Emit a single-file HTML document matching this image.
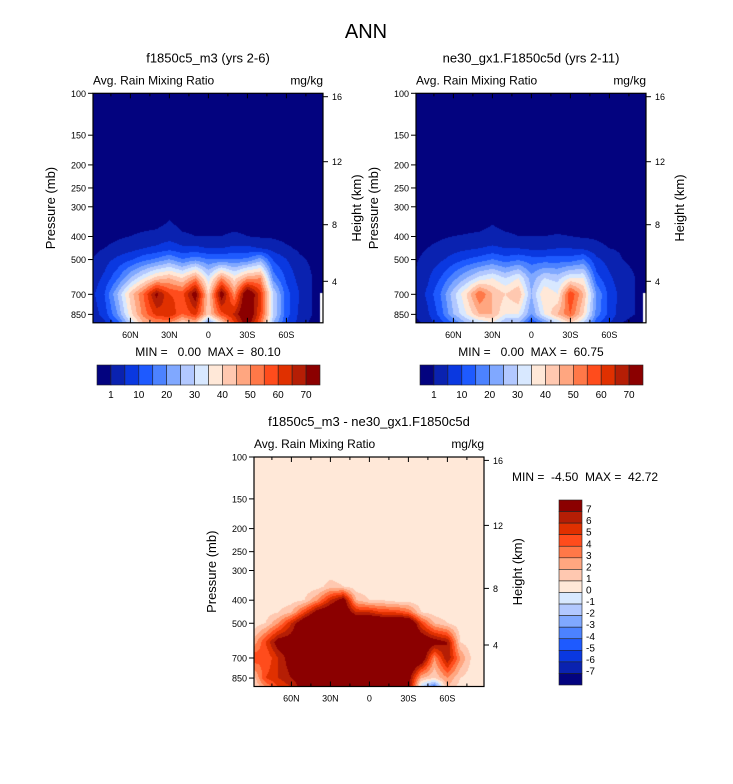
<!DOCTYPE html>
<html><head><meta charset="utf-8"><style>
body{margin:0;width:733px;height:784px;background:#fff;position:relative;overflow:hidden;font-family:"Liberation Sans",Arial,sans-serif}
canvas{position:absolute}
svg{position:absolute;left:0;top:0}
svg text{white-space:pre}
</style></head><body>
<canvas id="c1" width="230" height="230" style="left:93px;top:93px"></canvas>
<canvas id="c2" width="230" height="230" style="left:416px;top:93px"></canvas>
<canvas id="c3" width="230" height="230" style="left:254px;top:457px"></canvas>
<svg id="ov" width="733" height="784">
<text x="366" y="38" font-size="20" text-anchor="middle">ANN</text>
</svg>
<script>
// ---- data ----
const lats = [90,80,70,60,50,40,30,20,10,0,-10,-20,-30,-40,-50,-60,-70,-80,-90];
const pLevels = [925,850,700,600,500,450,400,350,300];
const field1 = [
 [1,4,12,30,45,50,50,40,45,20,40,60,75,55,25,10,3,0,0],
 [2,7,20,38,52,62,65,55,62,42,58,66,80,60,30,12,4,1,0],
 [3,10,25,42,55,72,60,58,75,40,75,50,80,62,30,12,5,1,0],
 [2,6,14,25,34,42,45,40,50,32,50,38,48,50,18,9,3,1,0],
 [0.8,3,6,9,13,16,20,15,18,15,15,15,16,22,9,5,1.5,0.5,0],
 [0,1,2,3,5,6,8,6,6,5,5,6,6,5,3,1.5,0.5,0,0],
 [0,0,0.5,1,1.5,2,3,1.5,1,1,1,1.5,1,0.5,0.5,0,0,0,0],
 [0,0,0,0,0,0,1.2,0,0,0,0,0,0,0,0,0,0,0,0],
 [0,0,0,0,0,0,0,0,0,0,0,0,0,0,0,0,0,0,0]
];
const field2 = [
 [0,2,8,15,25,30,35,25,25,10,20,30,40,30,12,5,1,0,0],
 [1,4,12,25,35,45,45,35,35,20,35,45,55,40,18,8,2,1,0],
 [1,6,15,28,40,55,45,40,45,25,40,35,60,45,20,8,3,1,0],
 [1,4,10,18,25,32,35,30,35,22,30,28,35,35,12,6,2,1,0],
 [0.5,2,4,7,10,12,15,12,14,12,12,12,12,15,6,3,1,0.5,0],
 [0,1,2,3,4,5,6,5,5,4,4,5,5,4,2,1,0.5,0,0],
 [0,0,0.5,1,1.2,1.5,2,1.5,1,1,1,1.2,1,0.5,0.5,0,0,0,0],
 [0,0,0,0,0,0,0.8,0,0,0,0,0,0,0,0,0,0,0,0],
 [0,0,0,0,0,0,0,0,0,0,0,0,0,0,0,0,0,0,0]
];
const fieldDiff = [
 [0.5,3,5,6,8,8,10,10,10,10,10,10,8,-1,-4,2,0.5,0.3,0.3],
 [1,5,6,7,8,9,9,10,10,10,10,10,8,2,1,3,1,0.3,0.3],
 [5,4,6,8,10,10,10,10,10,10,10,10,10,9,3,7,3,0.5,0.3],
 [2,5,8,8,10,10,10,10,10,10,10,10,10,9,8,7,1,0.3,0.3],
 [0.3,1,3,6,9,10,10,10,10,10,10,10,10,5,2,1,0.3,0.3,0.3],
 [0.3,0.5,1,2,5,8,9,9,6,6,5,5,4,1,0.5,0.3,0.3,0.3,0.3],
 [0.3,0.3,0.3,0.5,1,3,6,8,2,1,1,0.5,0.5,0.3,0.3,0.3,0.3,0.3,0.3],
 [0.3,0.3,0.3,0.3,0.3,0.5,1.5,1,0.3,0.3,0.3,0.3,0.3,0.3,0.3,0.3,0.3,0.3,0.3],
 [0.3,0.3,0.3,0.3,0.3,0.3,0.3,0.3,0.3,0.3,0.3,0.3,0.3,0.3,0.3,0.3,0.3,0.3,0.3]
];
const cnLevels = [1,5,10,15,20,25,30,35,40,45,50,55,60,65,70];
const cnLabels = ['1','10','20','30','40','50','60','70'];
const diffLevels = [-7,-6,-5,-4,-3,-2,-1,0,1,2,3,4,5,6,7];
const diffLabels = ['7','6','5','4','3','2','1','0','-1','-2','-3','-4','-5','-6','-7'];
const pTicks = [100,150,200,250,300,400,500,700,850];
const zTicks = [16,12,8,4];
const zTickY = [3.4,68.4,131.4,188];
const latTicks = [60,30,0,-30,-60];
const latTickLabels = ['60N','30N','0','30S','60S'];
const cnColors = ['#03037f','#0a22b0','#0a38e0','#1e5aff','#4c82ff','#80a8ff','#b2c8ff','#d8e8ff','#ffe8d8','#ffc8b0','#ffa680','#ff7848','#ff4c1c','#e03000','#b51e05','#8b0000'];
const diffColors = ['#03037f','#0a22b0','#0a38e0','#1e5aff','#4c82ff','#80a8ff','#b2c8ff','#d8e8ff','#ffe8d8','#ffc8b0','#ffa680','#ff7848','#ff4c1c','#e03000','#b51e05','#8b0000'];

// ---- axes functions ----
const PH = 229.5, PW = 230, LNS = 103.3;
const yOfP = p => Math.log(p/100)*LNS;
const pOfY = y => 100*Math.exp(y/LNS);
const xOfLat = lat => 115.4 - lat*1.3;
const latOfX = x => (115.4 - x)/1.3;

function sample(field, lat, p){
  let li = (90-lat)/10; li=Math.max(0,Math.min(17.9999,li));
  const i0=Math.floor(li), fx=li-i0;
  const lp=Math.log(p);
  let r0, fy;
  if(p>=pLevels[0]){r0=0;fy=0;}
  else if(p<=pLevels[pLevels.length-1]){return field[pLevels.length-1][i0]*(1-fx)+field[pLevels.length-1][i0+1]*fx;}
  else{for(let k=0;k<pLevels.length-1;k++){if(p<=pLevels[k]&&p>pLevels[k+1]){r0=k;fy=(Math.log(pLevels[k])-lp)/(Math.log(pLevels[k])-Math.log(pLevels[k+1]));break;}}}
  const a=field[r0], b=field[Math.min(r0+1,pLevels.length-1)];
  const v0=a[i0]*(1-fx)+a[i0+1]*fx, v1=b[i0]*(1-fx)+b[i0+1]*fx;
  return v0*(1-fy)+v1*fy;
}
function colorFor(v, levels, colors){let k=0;while(k<levels.length&&v>=levels[k])k++;return colors[k];}
function drawField(id, field, levels, colors, missing){
  const ctx=document.getElementById(id).getContext('2d');
  for(let y=0;y<230;y++){const p=pOfY(y+0.5);
    for(let x=0;x<230;x++){const lat=latOfX(x+0.5);
      if(missing && lat<-86 && p>690){ctx.fillStyle='#fff';}
      else ctx.fillStyle=colorFor(sample(field,lat,p),levels,colors);
      ctx.fillRect(x,y,1,1);}}
}
drawField('c1',field1,cnLevels,cnColors,true);
drawField('c2',field2,cnLevels,cnColors,true);
drawField('c3',fieldDiff,diffLevels,diffColors,false);

const NS='http://www.w3.org/2000/svg';
const ov=document.getElementById('ov');
function el(tag,attrs,txt){const e=document.createElementNS(NS,tag);for(const k in attrs)e.setAttribute(k,attrs[k]);if(txt!==undefined)e.textContent=txt;ov.appendChild(e);return e;}

function axes(ox,oy,title,name){
  let e;
  e=el('rect',{x:ox,y:oy,width:PW,height:PH,fill:'none',stroke:'#000','stroke-width':1.2});
  
  
  e=el('text',{x:ox+PW/2,y:oy-31,'font-size':13,'text-anchor':'middle'},title);
  
  
  e=el('text',{x:ox,y:oy-9,'font-size':12},'Avg. Rain Mixing Ratio');
  
  
  e=el('text',{x:ox+PW,y:oy-9,'font-size':12,'text-anchor':'end'},'mg/kg');
  
  
  pTicks.forEach(p=>{const y=oy+yOfP(p);
    el('line',{x1:ox-5,x2:ox,y1:y,y2:y,stroke:'#000'});
    e=el('text',{x:ox-7,y:y+3.5,'font-size':9,'text-anchor':'end'},String(p));
    
    });
  zTicks.forEach((z,i)=>{const y=oy+zTickY[i];
    el('line',{x1:ox+PW,x2:ox+PW+5,y1:y,y2:y,stroke:'#000'});
    e=el('text',{x:ox+PW+9,y:y+3.5,'font-size':9},String(z));
    
    });
  for(let lat=75;lat>=-75;lat-=15){const x=ox+xOfLat(lat);const maj=lat%30===0;const L=maj?5:3;
    el('line',{x1:x,x2:x,y1:oy+PH,y2:oy+PH-L,stroke:'#000'});
    el('line',{x1:x,x2:x,y1:oy,y2:oy+L,stroke:'#000'});}
  latTicks.forEach((lat,i)=>{
    e=el('text',{x:ox+xOfLat(lat),y:oy+PH+15,'font-size':9,'text-anchor':'middle'},latTickLabels[i]);
    
    });
  e=el('text',{x:0,y:0,'font-size':13,'text-anchor':'middle',transform:`translate(${ox-38},${oy+PH/2}) rotate(-90)`},'Pressure (mb)');
  
  
  e=el('text',{x:0,y:0,'font-size':13,'text-anchor':'middle',transform:`translate(${ox+PW+38},${oy+PH/2}) rotate(-90)`},'Height (km)');
  
  
}
axes(93,93.3,'f1850c5_m3 (yrs 2-6)','panel1');
axes(416,93.3,'ne30_gx1.F1850c5d (yrs 2-11)','panel2');
axes(254,457,'f1850c5_m3 - ne30_gx1.F1850c5d','diff');

let e;
e=el('text',{x:208,y:356,'font-size':12,'text-anchor':'middle'},'MIN =   0.00  MAX =  80.10');


e=el('text',{x:531,y:356,'font-size':12,'text-anchor':'middle'},'MIN =   0.00  MAX =  60.75');


e=el('text',{x:512,y:481,'font-size':12},'MIN =  -4.50  MAX =  42.72');



function hbar(x0,y0,w,h){const bw=w/cnColors.length;
  cnColors.forEach((c,i)=>{const r=el('rect',{x:x0+i*bw,y:y0,width:bw,height:h,fill:c,stroke:'#222','stroke-width':0.6});
    
    });
  cnLabels.forEach((t,i)=>{const x=x0+bw*(2*i+1);
    const tt=el('text',{x:x,y:y0+h+13,'font-size':10,'text-anchor':'middle'},t);
    
    });
}
hbar(97,365,223,20);
hbar(420,365,223,20);
(function(){const x0=559,y0=500,w=23,h=185;const n=diffColors.length,bh=h/n;
  diffColors.slice().reverse().forEach((c,i)=>{const r=el('rect',{x:x0,y:y0+i*bh,width:w,height:bh,fill:c,stroke:'#222','stroke-width':0.6});
    
    });
  diffLabels.forEach((t,i)=>{const tt=el('text',{x:x0+w+4,y:y0+bh*(i+1)+1,'font-size':10},t);
    
    });
})();
</script>
</body></html>
